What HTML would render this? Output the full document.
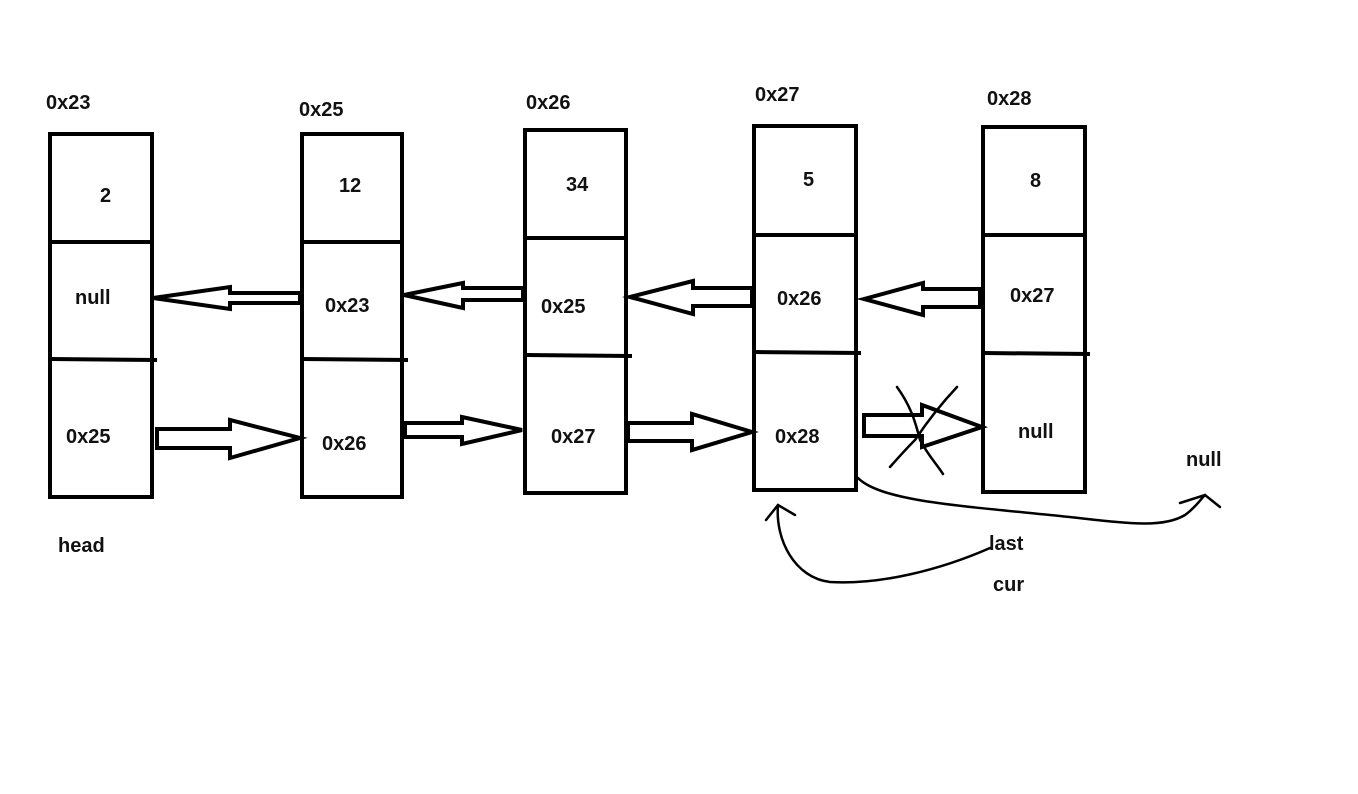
<!DOCTYPE html>
<html><head><meta charset="utf-8"><style>
html,body{margin:0;padding:0;background:#fff;}
svg text{font-family:"Liberation Sans",sans-serif;font-weight:bold;font-size:20px;fill:#111;}
</style></head><body>
<svg width="1358" height="789" viewBox="0 0 1358 789" xmlns="http://www.w3.org/2000/svg">
<rect width="1358" height="789" fill="#fff"/>
<g fill="none" stroke="#000" stroke-width="4">
<rect x="50" y="134" width="102" height="363"/>
<line x1="50" y1="242" x2="152" y2="242"/><line x1="50" y1="359" x2="157" y2="360"/>
<rect x="302" y="134" width="100" height="363"/>
<line x1="302" y1="242" x2="402" y2="242"/><line x1="302" y1="359" x2="408" y2="360"/>
<rect x="525" y="130" width="101" height="363"/>
<line x1="525" y1="238" x2="626" y2="238"/><line x1="525" y1="355" x2="632" y2="356"/>
<rect x="754" y="126" width="102" height="364"/>
<line x1="754" y1="235" x2="856" y2="235"/><line x1="754" y1="352" x2="861" y2="353"/>
<rect x="983" y="127" width="102" height="365"/>
<line x1="983" y1="235" x2="1085" y2="235"/><line x1="983" y1="353" x2="1090" y2="354"/>

<polygon points="157,429 230,429 230,420 300,438 230,458 230,448 157,448"/>
<polygon points="405,423 462,423 462,417 522,430 462,444 462,437 405,437"/>
<polygon points="628,423 692,423 692,414 752,432 692,450 692,441 628,441"/>
<polygon points="864,415 922,415 922,405 982,427 922,447 922,436 864,436"/>

<polygon points="153,298 230,287 230,293 300,293 300,303 230,303 230,309"/>
<polygon points="404,295 463,283 463,288 523,288 523,300 463,300 463,308"/>
<polygon points="630,297 693,281 693,288 752,288 752,306 693,306 693,314"/>
<polygon points="864,299 923,283 923,289 980,289 980,307 923,307 923,315"/>
</g>
<g fill="none" stroke="#000" stroke-width="2.5" stroke-linecap="round">
<path d="M897,387 C910,405 915,420 920,440 C928,455 935,462 943,474"/>
<path d="M957,387 C940,405 925,425 915,440 C905,450 898,458 890,467"/>
<path d="M858,478 C880,500 950,505 1050,515 C1120,522 1160,530 1185,515 C1195,508 1200,500 1205,495"/>
<path d="M1180,503 L1205,495 L1220,507"/>
<path d="M990,548 C940,570 880,585 830,582 C795,578 775,540 778,505"/>
<path d="M766,520 L778,505 L795,515"/>
</g>
<text x="46" y="109">0x23</text>
<text x="299" y="116">0x25</text>
<text x="526" y="109">0x26</text>
<text x="755" y="101">0x27</text>
<text x="987" y="105">0x28</text>
<text x="100" y="202">2</text>
<text x="339" y="192">12</text>
<text x="566" y="191">34</text>
<text x="803" y="186">5</text>
<text x="1030" y="187">8</text>
<text x="75" y="304">null</text>
<text x="325" y="312">0x23</text>
<text x="541" y="313">0x25</text>
<text x="777" y="305">0x26</text>
<text x="1010" y="302">0x27</text>
<text x="66" y="443">0x25</text>
<text x="322" y="450">0x26</text>
<text x="551" y="443">0x27</text>
<text x="775" y="443">0x28</text>
<text x="1018" y="438">null</text>
<text x="1186" y="466">null</text>
<text x="58" y="552">head</text>
<text x="989" y="550">last</text>
<text x="993" y="591">cur</text>
</svg>
</body></html>
